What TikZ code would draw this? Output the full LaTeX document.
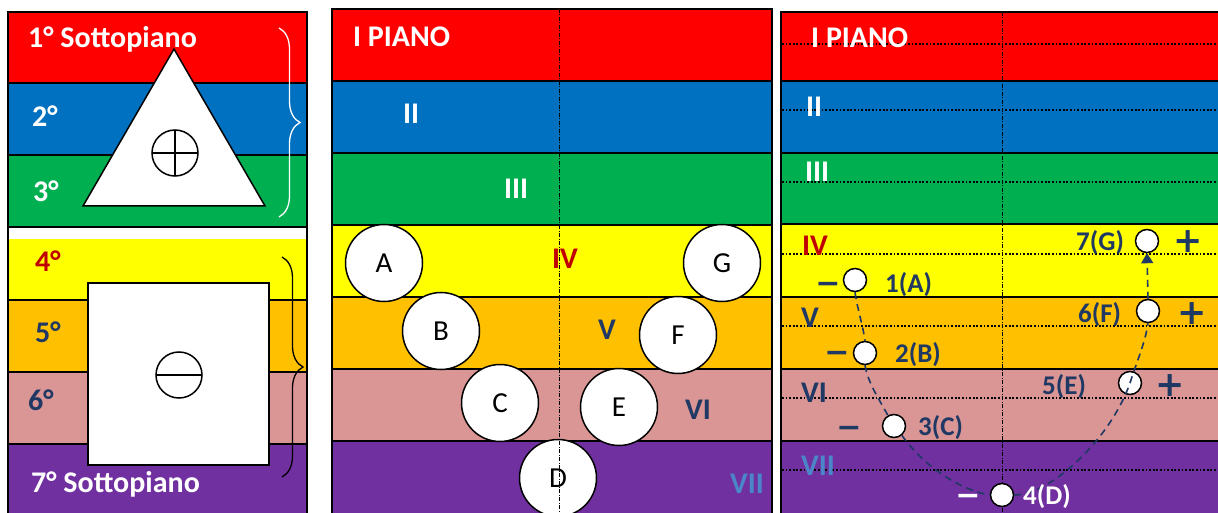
\documentclass[tikz,border=0pt]{standalone}
\usepackage{fontspec}
\setmainfont{Carlito}
\newfontfamily\signfont{DejaVu Sans}
\usetikzlibrary{decorations.pathreplacing,arrows.meta}
\definecolor{bred}{HTML}{FF0000}
\definecolor{bblue}{HTML}{0070C0}
\definecolor{bgreen}{HTML}{00B050}
\definecolor{byellow}{HTML}{FFFF00}
\definecolor{borange}{HTML}{FFC000}
\definecolor{bpink}{HTML}{DA9694}
\definecolor{bpurple}{HTML}{7030A0}
\definecolor{navy}{HTML}{1F3864}
\definecolor{dred}{HTML}{C00000}
\definecolor{lblue}{HTML}{4A86C8}
\tikzset{
  band/.style={draw=black, line width=1.6pt},
  lab/.style={font=\fontsize{30}{34}\selectfont\bfseries, anchor=base west, inner sep=0pt},
  plab/.style={font=\fontsize{27}{30}\selectfont\bfseries, anchor=base west, inner sep=0pt, text=navy},
  bigc/.style={circle, draw=black, fill=white, line width=1.5pt, minimum size=77pt, inner sep=0pt, font=\fontsize{29}{34}\selectfont},
  smallc/.style={circle, draw=black, fill=white, line width=1.5pt, minimum size=23pt, inner sep=0pt},
  vline/.style={black, line width=0.8pt, dash pattern=on 4pt off 1.5pt on 1pt off 1.5pt},
  hdot/.style={black, line width=1.8pt, dash pattern=on 1.8pt off 1.8pt},
  path3/.style={navy, line width=1.6pt, dash pattern=on 7pt off 5pt},
  plus/.style={font=\signfont\bfseries\fontsize{35}{35}\selectfont, text=navy, inner sep=0pt},
  minus/.style={font=\signfont\bfseries\fontsize{30}{30}\selectfont, text=navy, inner sep=0pt},
  shapeline/.style={black, line width=1.5pt}
}
\begin{document}
\begin{tikzpicture}[x=1pt,y=-1pt]
\useasboundingbox (0,0) rectangle (1218,513);
\clip (0,0) rectangle (1218,513);
\fill[white] (0,0) rectangle (1218,513);
% ---------- Panel 1 ----------
\foreach \t/\b/\c in {12/83/bred,83/155/bblue,155/227/bgreen,227/300/byellow,300/372/borange,372/444/bpink,444/516/bpurple}
  \path[band, fill=\c] (8,\t) rectangle (307,\b);
\fill[white] (8.8,228) rectangle (306.2,239);
\node[lab, text=white] (p1a) at (28,48) {1° Sottopiano};
\node[lab, text=white] (p1b) at (32,127) {2°};
\node[lab, text=white] (p1c) at (33,202) {3°};
\node[lab, text=dred] (p1d) at (35,271) {4°};
\node[lab, text=navy] (p1e) at (35,342) {5°};
\node[lab, text=navy] (p1f) at (28,410) {6°};
\node[lab, text=white] (p1g) at (31,492) {7° Sottopiano};
\draw[shapeline, fill=white] (174,49) -- (265,206) -- (83,206) -- cycle;
\draw[shapeline] (175,153) circle (23pt);
\draw[shapeline] (152,153) -- (198,153);
\draw[shapeline] (175,130) -- (175,176);
\draw[shapeline, fill=white] (88,283) rectangle (269,465);
\draw[shapeline] (179,375) circle (23pt);
\draw[shapeline] (156,375) -- (202,375);
\draw[white, line width=1.3pt, decorate, decoration={brace, amplitude=21pt}] (279,28) -- (279,217);
\draw[black, line width=1.3pt, decorate, decoration={brace, amplitude=21pt}] (282,257) -- (282,477);
% ---------- Panel 2 ----------
\foreach \t/\b/\c in {9/81/bred,81/153/bblue,153/225/bgreen,225/297/byellow,297/369/borange,369/441/bpink,441/516/bpurple}
  \path[band, fill=\c] (332,\t) rectangle (772,\b);
\node[lab, text=white] (q1) at (353,47) {I PIANO};
\node[lab, text=white] (q2) at (403,124) {II};
\node[lab, text=white] (q3) at (504,199) {III};
\node[lab, text=dred] (q4) at (552,268) {IV};
\node[lab, text=navy] (q5) at (598,339) {V};
\node[lab, text=navy] (q6) at (685,419) {VI};
\node[lab, text=lblue] (q7) at (730,493) {VII};
\node[bigc] (A) at (384,263) {A};
\node[bigc] (G) at (722,263) {G};
\node[bigc] (B) at (441,331) {B};
\node[bigc] (F) at (678,335) {F};
\node[bigc] (C) at (500,403) {C};
\node[bigc] (E) at (619,407) {E};
\node[bigc] (D) at (558,478) {D};
\draw[vline] (559,9) -- (559,513);
% ---------- Panel 3 ----------
\foreach \t/\b/\c in {12/81/bred,81/153/bblue,153/224/bgreen,224/297/byellow,297/369/borange,369/441/bpink,441/516/bpurple}
  \path[band, fill=\c] (781,\t) rectangle (1222,\b);
\foreach \y in {44,110,182,254,326,398,470}
  \draw[hdot] (782,\y) -- (1218,\y);
\node[lab, text=white] (r1) at (811,48) {I PIANO};
\node[lab, text=white] (r2) at (806,117) {II};
\node[lab, text=white] (r3) at (805,182) {III};
\node[lab, text=dred] (r4) at (802,255) {IV};
\node[lab, text=navy] (r5) at (801,327) {V};
\node[lab, text=navy] (r6) at (801,402) {VI};
\node[lab, text=lblue] (r7) at (801,475) {VII};
\draw[vline] (1002,12) -- (1002,513);
\node[smallc] (a1) at (855,280) {};
\node[smallc] (b2) at (865,353) {};
\node[smallc] (c3) at (894,426) {};
\node[smallc] (d4) at (1002,495) {};
\node[smallc] (e5) at (1130,383) {};
\node[smallc] (f6) at (1148,311) {};
\node[smallc] (g7) at (1147,241) {};
\draw[path3] (a1.south) .. controls +(2,15) and +(-2,-15) .. (b2.north);
\draw[path3] (b2.south) .. controls +(3,18) and +(-8,-15) .. (c3.120);
\draw[path3] (c3.-50) .. controls +(25,35) and +(-25,-4) .. (d4.west);
\draw[path3] (d4.east) .. controls +(36,0) and +(-20,57) .. (e5.center);
\draw[path3] (e5.center) .. controls +(8,-25) and +(-3,20) .. (f6.south);
\draw[path3, -{Triangle[length=10pt,width=12pt]}] (f6.north) -- (g7.south);
\node[plab] (la) at (885,292) {1(A)};
\node[plab] (lb) at (895,362) {2(B)};
\node[plab] (lc) at (918,435) {3(C)};
\node[plab, text=white] (ld) at (1023,504) {4(D)};
\node[plab] (le) at (1042,394) {5(E)};
\node[plab] (lf) at (1078,322) {6(F)};
\node[plab] (lg) at (1076,251) {7(G)};
\node[minus] (ma) at (828,288) {−};
\node[minus] (mb) at (837,357) {−};
\node[minus] (mc) at (849,432) {−};
\node[minus, text=white] (md) at (968,500) {−};
\node[plus] (pg) at (1188,242) {+};
\node[plus] (pf) at (1192,314) {+};
\node[plus] (pe) at (1170,386) {+};
\end{tikzpicture}
\end{document}
